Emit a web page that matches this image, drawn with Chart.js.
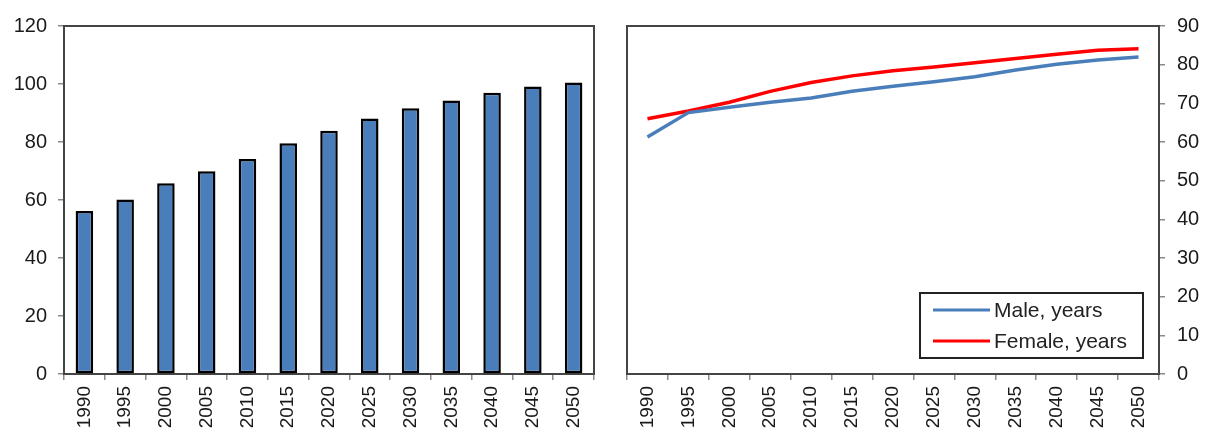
<!DOCTYPE html>
<html>
<head>
<meta charset="utf-8">
<script src="https://cdn.jsdelivr.net/npm/chart.js@4"></script>
<style>
  html, body { margin: 0; padding: 0; background: #fff; }
  #wrap { position: relative; width: 1205px; height: 434px; }
  .box { position: absolute; top: 0; height: 434px; }
  #leftBox { left: 0; width: 605px; }
  #rightBox { left: 605px; width: 600px; }
</style>
</head>
<body>
<div id="wrap">
  <div class="box" id="leftBox"><canvas id="barChart"></canvas></div>
  <div class="box" id="rightBox"><canvas id="lineChart"></canvas></div>
</div>
<script>
// data
var years = ['1990', '1995', '2000', '2005', '2010', '2015', '2020', '2025', '2030', '2035', '2040', '2045', '2050'];
var barValues = [56.2, 60.2, 65.8, 69.9, 74.1, 79.6, 83.9, 88.1, 91.6, 94.3, 97.0, 99.1, 100.5];
var maleYears = [61.3, 67.6, 69.0, 70.3, 71.4, 73.1, 74.4, 75.6, 76.9, 78.6, 80.1, 81.2, 82.0];
var femaleYears = [66.0, 68.0, 70.3, 73.1, 75.4, 77.1, 78.4, 79.4, 80.5, 81.6, 82.7, 83.7, 84.1];
var seriesNames = ['Male, years', 'Female, years'];
var leftTicks = { min: 0, max: 120, step: 20 };
var rightTicks = { min: 0, max: 90, step: 10 };

var FONT = "'Liberation Sans', Arial, sans-serif";
var TICK_COLOR = '#1a1a1a';
var AXIS_COLOR = '#8a8a8a';

// plot area frame (Excel style: dark box, gray axes drawn on top)
var frame = {
  id: 'frame',
  beforeDatasetsDraw: function(chart) {
    var a = chart.chartArea, ctx = chart.ctx;
    ctx.save();
    ctx.strokeStyle = '#444';
    ctx.lineWidth = 2;
    ctx.strokeRect(a.left, a.top, a.right - a.left, a.bottom - a.top);
    ctx.restore();
  }
};

// legend box inside the plot area, bottom right
var innerLegend = {
  id: 'innerLegend',
  afterDraw: function(chart) {
    var a = chart.chartArea, ctx = chart.ctx;
    var w = 223, h = 65;
    var x = a.right - 16 - w, y = a.bottom - 16 - h;
    ctx.save();
    ctx.fillStyle = '#fff';
    ctx.fillRect(x, y, w, h);
    ctx.strokeStyle = '#222';
    ctx.lineWidth = 2;
    ctx.strokeRect(x, y, w, h);
    ctx.font = '21px ' + FONT;
    ctx.textBaseline = 'middle';
    chart.data.datasets.forEach(function(ds, i) {
      var ry = y + 17 + i * 31;
      ctx.strokeStyle = ds.borderColor;
      ctx.lineWidth = 3;
      ctx.beginPath();
      ctx.moveTo(x + 13, ry);
      ctx.lineTo(x + 70, ry);
      ctx.stroke();
      ctx.fillStyle = '#222';
      ctx.fillText(ds.label, x + 74, ry + 1);
    });
    ctx.restore();
  }
};

function xScale() {
  return {
    offset: true,
    grid: { display: true, drawOnChartArea: false, offset: true, color: AXIS_COLOR, tickLength: 6, lineWidth: 1.5 },
    border: { display: true, color: AXIS_COLOR, width: 2 },
    ticks: { color: TICK_COLOR, font: { family: FONT, size: 19 }, minRotation: 90, maxRotation: 90, autoSkip: false, padding: 6 },
    afterFit: function(s) { s.height = 60; }
  };
}

function yScale(t, pos, width) {
  return {
    position: pos,
    min: t.min, max: t.max,
    grid: { display: true, drawOnChartArea: false, color: AXIS_COLOR, tickLength: 6, lineWidth: 1.5 },
    border: { display: true, color: AXIS_COLOR, width: 2 },
    ticks: { stepSize: t.step, color: TICK_COLOR, font: { family: FONT, size: 20 }, padding: pos === 'left' ? 11 : 12 },
    afterFit: function(s) { s.width = width; }
  };
}

new Chart(document.getElementById('barChart').getContext('2d'), {
  type: 'bar',
  data: {
    labels: years,
    datasets: [{
      data: barValues,
      backgroundColor: '#4a7ebb',
      borderColor: '#000',
      borderWidth: 2.5,
      borderSkipped: false,
      barPercentage: 0.43,
      categoryPercentage: 1
    }]
  },
  options: {
    responsive: true,
    maintainAspectRatio: false,
    animation: false,
    layout: { padding: { top: 26, right: 11, left: 0, bottom: 0 } },
    plugins: { legend: { display: false }, tooltip: { enabled: false } },
    scales: { x: xScale(), y: yScale(leftTicks, 'left', 64) }
  },
  plugins: [frame]
});

new Chart(document.getElementById('lineChart').getContext('2d'), {
  type: 'line',
  data: {
    labels: years,
    datasets: [
      { label: seriesNames[0], data: maleYears, borderColor: '#4a7ebb', borderWidth: 3.5, pointRadius: 0, tension: 0, fill: false },
      { label: seriesNames[1], data: femaleYears, borderColor: '#ff0000', borderWidth: 3.5, pointRadius: 0, tension: 0, fill: false }
    ]
  },
  options: {
    responsive: true,
    maintainAspectRatio: false,
    animation: false,
    layout: { padding: { top: 26, right: 0, left: 22, bottom: 0 } },
    plugins: { legend: { display: false }, tooltip: { enabled: false } },
    scales: { x: xScale(), y: yScale(rightTicks, 'right', 46) }
  },
  plugins: [frame, innerLegend]
});
</script>
</body>
</html>
